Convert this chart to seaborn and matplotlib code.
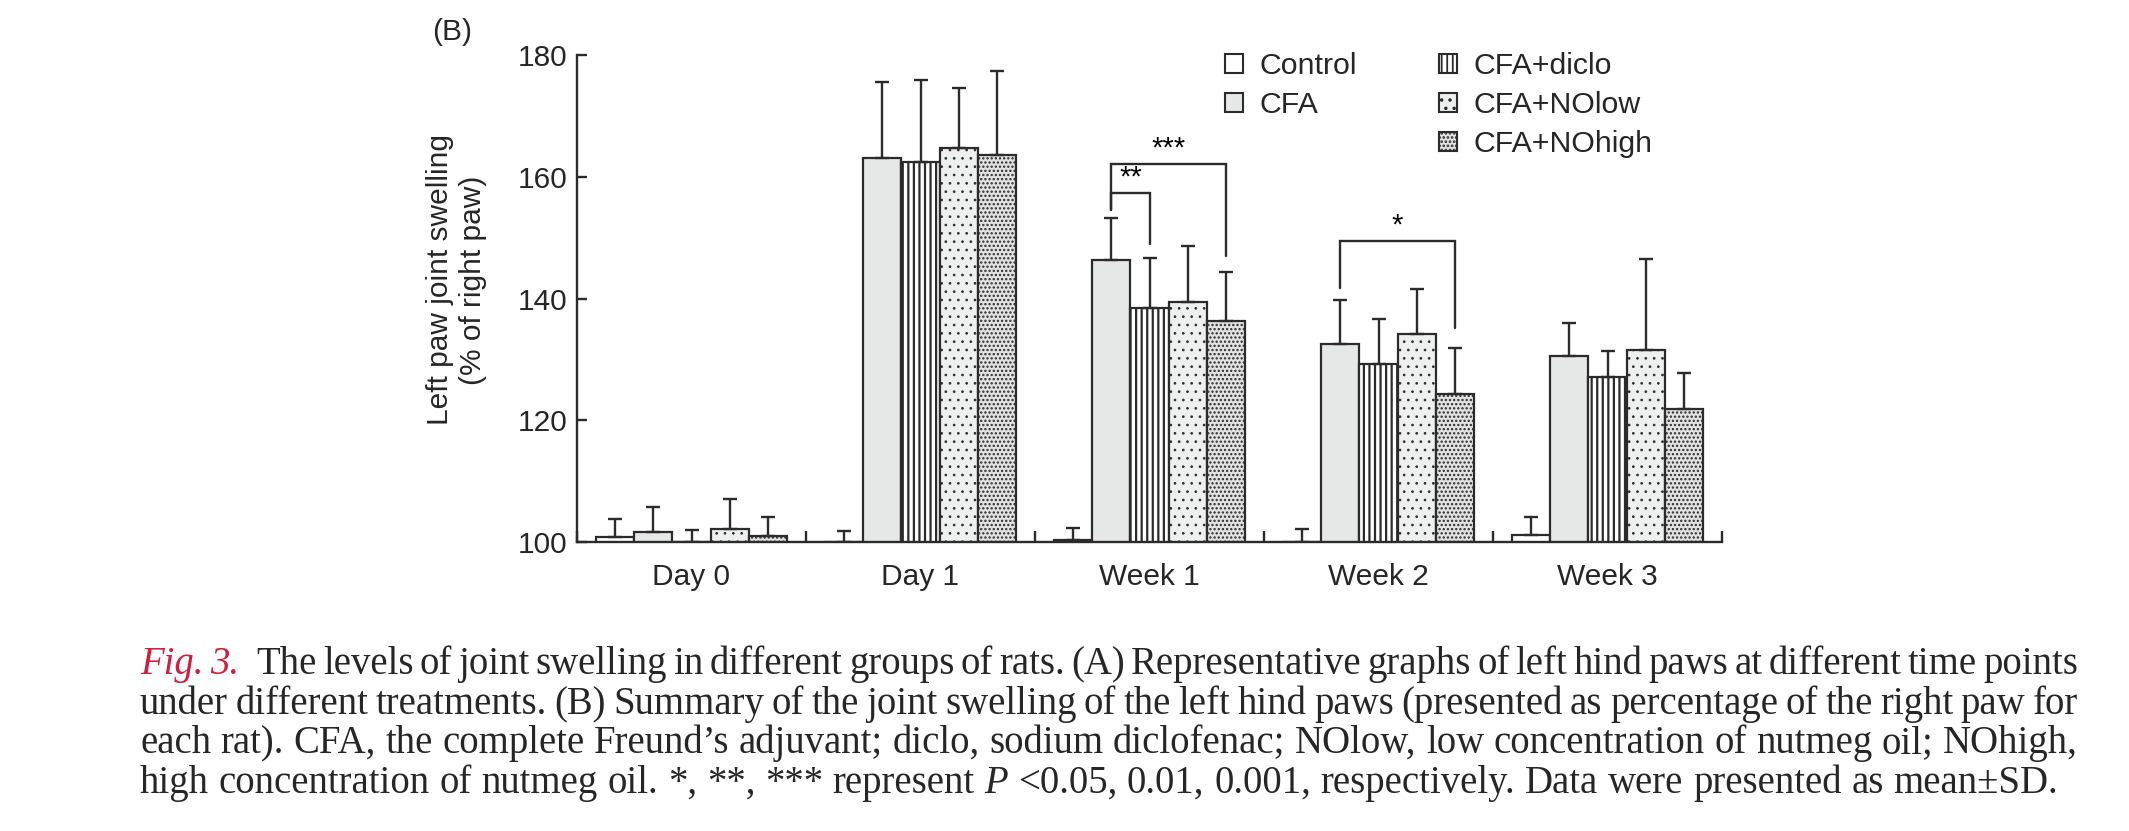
import numpy as np
import pandas as pd
import matplotlib
matplotlib.use('Agg')
import matplotlib.pyplot as plt
from matplotlib.patches import Patch
import seaborn as sns

# values (mean and upper SD)
groups = ['Day 0', 'Day 1', 'Week 1', 'Week 2', 'Week 3']
treatments = ['Control', 'CFA', 'CFA+diclo', 'CFA+NOlow', 'CFA+NOhigh']

control_mean = [100.8, 100.0, 100.4, 100.0, 101.2]
control_sd = [2.9, 1.8, 1.9, 2.1, 2.9]
cfa_mean = [101.7, 163.1, 146.3, 132.5, 130.5]
cfa_sd = [4.1, 12.5, 7.0, 7.3, 5.5]
diclo_mean = [100.0, 162.5, 138.4, 129.3, 127.1]
diclo_sd = [2.0, 13.4, 8.3, 7.4, 4.2]
nolow_mean = [102.1, 164.7, 139.4, 134.1, 131.6]
nolow_sd = [4.9, 9.9, 9.3, 7.5, 14.9]
nohigh_mean = [101.0, 163.6, 136.3, 124.3, 121.9]
nohigh_sd = [3.1, 13.8, 8.0, 7.5, 5.8]

# significance: group, from, to, bracket level, left end, right end, label
brackets = [
    ('Week 1', 'CFA', 'CFA+NOhigh', 162.1, 154.6, 147.0, '***'),
    ('Week 1', 'CFA', 'CFA+diclo', 157.3, 154.6, 148.9, '**'),
    ('Week 2', 'CFA', 'CFA+NOhigh', 149.4, 141.8, 135.1, '*'),
]

caption = [
    "Fig. 3. The levels of joint swelling in different groups of rats. (A) Representative graphs of left hind paws at different time points",
    "under different treatments. (B) Summary of the joint swelling of the left hind paws (presented as percentage of the right paw for",
    "each rat). CFA, the complete Freund\u2019s adjuvant; diclo, sodium diclofenac; NOlow, low concentration of nutmeg oil; NOhigh,",
    "high concentration of nutmeg oil. *, **, *** represent P <0.05, 0.01, 0.001, respectively. Data were presented as mean\u00b1SD.",
]

means = [control_mean, cfa_mean, diclo_mean, nolow_mean, nohigh_mean]
sds = [control_sd, cfa_sd, diclo_sd, nolow_sd, nohigh_sd]

rows = []
for t, m in zip(treatments, means):
    for g, v in zip(groups, m):
        rows.append({'time': g, 'group': t, 'value': v})
df = pd.DataFrame(rows)

fills = {'Control': 'white', 'CFA': '#e6e8e8', 'CFA+diclo': 'white',
         'CFA+NOlow': '#eef0f0', 'CFA+NOhigh': '#e2e2e2'}
hatches = {'Control': '', 'CFA': '', 'CFA+diclo': '|||',
           'CFA+NOlow': '..', 'CFA+NOhigh': '....'}
hatch_lw = {'Control': 1.0, 'CFA': 1.0, 'CFA+diclo': 1.6,
            'CFA+NOlow': 0.7, 'CFA+NOhigh': 1.1}
ink = '#2b2b2b'

sns.set_style('ticks')
plt.rcParams['font.family'] = ['Liberation Sans', 'DejaVu Sans']
plt.rcParams['hatch.linewidth'] = 1.3
plt.rcParams['hatch.color'] = ink

W, H = 2129, 831
fig = plt.figure(figsize=(W / 100, H / 100), dpi=100)
ax = fig.add_axes([577 / W, 1 - 542 / H, (1722 - 577) / W, (542 - 55) / H])

sns.barplot(data=df, x='time', y='value', hue='group', order=groups,
            hue_order=treatments, width=5 / 6, gap=0, errorbar=None,
            edgecolor=ink, linewidth=1.6, legend=False, ax=ax)


def style_patch(p, t):
    p.set_facecolor(fills[t])
    p.set_hatch(hatches[t])
    p.set_edgecolor(ink)
    if hasattr(p, 'set_hatch_linewidth'):
        p.set_hatch_linewidth(hatch_lw[t])


bar_conts = list(ax.containers)
for i, cont in enumerate(bar_conts):
    t = treatments[i]
    xs = []
    for bar in cont:
        style_patch(bar, t)
        xs.append(bar.get_x() + bar.get_width() / 2)
    ax.errorbar(xs, means[i], yerr=[np.zeros(len(xs)), sds[i]], fmt='none',
                ecolor=ink, elinewidth=1.7, capsize=4.7, capthick=1.7, zorder=3)

# brackets
bw = (5 / 6) / len(treatments)
def bar_x(g, t):
    return groups.index(g) + (treatments.index(t) - 2) * bw

for g, a, b, top, ya, yb, lab in brackets:
    xa, xb = bar_x(g, a), bar_x(g, b)
    ax.plot([xa, xa, xb, xb], [ya, top, top, yb], color=ink, lw=1.7,
            solid_joinstyle='miter', zorder=4, clip_on=False)
    ax.text((xa + xb) / 2, top + 0.3, lab, ha='center', va='bottom',
            fontsize=21, color='black')

ax.set_xlim(-0.5, 4.5)
ax.set_ylim(100, 180)
ax.set_yticks([100, 120, 140, 160, 180])
ax.set_xticks(range(len(groups)))
ax.set_xticklabels(groups)
ax.set_xticks(np.arange(-0.5, 5, 1), minor=True)
ax.tick_params(axis='y', direction='in', length=7.5, width=1.7, labelsize=21.5,
               pad=7, color=ink)
ax.tick_params(axis='x', which='major', length=0, labelsize=21.5, pad=15)
ax.tick_params(axis='x', which='minor', direction='in', length=8, width=1.7,
               color=ink)
ax.set_xlabel('')
ax.set_ylabel('Left paw joint swelling\n(% of right paw)', fontsize=21.5)
ax.yaxis.set_label_coords(-0.079, 0.538)
sns.despine(ax=ax)
for s in ['left', 'bottom']:
    ax.spines[s].set_linewidth(1.7)
    ax.spines[s].set_color(ink)

fig.text(452 / W, 1 - 32 / H, '(B)', ha='center', va='center', fontsize=21.5)

# legend: two entries in first column, three in second
handles = []
for t in treatments:
    h = Patch(edgecolor=ink, linewidth=1.5, label=t)
    style_patch(h, t)
    handles.append(h)
blank = Patch(visible=False, label='')
handles = handles[:2] + [blank] + handles[2:]
fig.legend(handles=handles, labels=[h.get_label() for h in handles], ncol=2,
           loc='upper left', bbox_to_anchor=(1225 / W, 1 - 52 / H),
           frameon=False, fontsize=21.8, handlelength=0.6, handleheight=0.6,
           handletextpad=0.55, columnspacing=2.7, labelspacing=0.36,
           borderpad=0, borderaxespad=0)

# caption, justified like the printed page
serif = ['Liberation Serif', 'DejaVu Serif']
left, right = 140, 2078
baselines = [674, 714, 753, 793]
renderer = fig.canvas.get_renderer()
base = 23.5
min_gap = 0.16  # in em


def make_words(n, line, size):
    arts = []
    for k, w in enumerate(line.split(' ')):
        kw = dict(fontsize=size, family=serif, va='baseline', ha='left')
        if n == 0 and k < 2:
            kw.update(style='italic', color='#cf1f3d')
        if w == 'P':
            kw.update(style='italic')
        arts.append(fig.text(0, 0, w, **kw))
    return arts


# pick the size so the widest line still fits with tight spaces
scale = 10.0
for n, line in enumerate(caption):
    arts = make_words(n, line, base)
    tot = sum(a.get_window_extent(renderer).width for a in arts)
    em = base * 100 / 72
    need = tot + (len(arts) - 1) * min_gap * em + (0.3 * em if n == 0 else 0)
    scale = min(scale, (right - left) / need)
    for a in arts:
        a.remove()
cap_size = base * scale
em = cap_size * 100 / 72

for n, (line, yb) in enumerate(zip(caption, baselines)):
    arts = make_words(n, line, cap_size)
    widths = [a.get_window_extent(renderer).width for a in arts]
    extra = 0.3 * em if n == 0 else 0
    gap = (right - left - sum(widths) - extra) / (len(arts) - 1)
    if n == len(caption) - 1:
        gap = min(gap, 0.25 * em)
    x = left
    for k, (a, w) in enumerate(zip(arts, widths)):
        a.set_position((x / W, 1 - yb / H))
        x += w + gap
        if n == 0 and k == 1:
            x += extra

fig.savefig('out.png', dpi=100)
